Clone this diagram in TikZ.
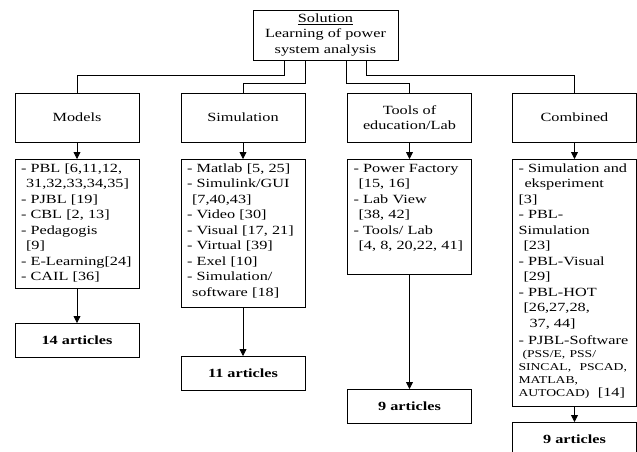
\documentclass[tikz,border=0pt]{standalone}
\usepackage{fontspec}
\setmainfont{Liberation Serif}[FakeStretch=1.3]
\usetikzlibrary{arrows.meta}
\setlength{\parindent}{0pt}

\begin{document}
\begin{tikzpicture}[x=1pt, y=-1pt,
    box/.style={draw, line width=0.8pt, minimum width=124pt, inner sep=0pt, align=center},
    listbox/.style={draw, line width=0.8pt, anchor=north, text width=112pt, inner xsep=6pt,
                    inner ysep=2pt, align=left, text height=11pt, text depth=#1},
    sumbox/.style={box, anchor=north, minimum height=34pt, font=\bfseries\fontsize{12.5}{15.5}\selectfont},
    link/.style={line width=0.8pt},
    arr/.style={line width=0.8pt, -{Triangle[width=7pt,length=7pt]}}]
\tikzset{every node/.style={font=\fontsize{12.5}{15.5}\selectfont}}
\useasboundingbox (0,0) rectangle (637,451);

\node[box, minimum width=145pt, minimum height=50pt] (root) at (325.5,35)
    {\underline{Solution}\\ Learning of power\\ system analysis};

% categories
\node[box, minimum height=49pt] (models) at (77,117.5) {Models};
\node[box, minimum height=49pt] (sim) at (243,117.5) {Simulation};
\node[box, minimum height=49pt] (tools) at (409.5,117.5) {Tools of\\ education/Lab};
\node[box, minimum height=49pt] (comb) at (574.5,117.5) {Combined};

% lists
\node[listbox=114pt] (modelslist) at (77,159) {- PBL [6,11,12,\\
    \hspace*{5pt}31,32,33,34,35]\\
    - PJBL [19]\\
    - CBL [2, 13]\\
    - Pedagogis\\
    \hspace*{5pt}[9]\\
    - E-Learning[24]\\
    - CAIL [36]};
\node[listbox=133pt] (simlist) at (243,159) {- Matlab [5, 25]\\
    - Simulink/GUI\\
    \hspace*{5pt}[7,40,43]\\
    - Video [30]\\
    - Visual [17, 21]\\
    - Virtual [39]\\
    - Exel [10]\\
    - Simulation/\\
    \hspace*{5pt}software [18]};
\node[listbox=100pt] (toolslist) at (409.5,159) {- Power Factory\\
    \hspace*{5pt}[15, 16]\\
    - Lab View\\
    \hspace*{5pt}[38, 42]\\
    - Tools/ Lab\\
    \hspace*{5pt}[4, 8, 20,22, 41]};
\node[listbox=232pt] (comblist) at (574.5,159) {- Simulation and\\
    \hspace*{6pt}eksperiment\\
    {}[3]\\
    - PBL-\\
    Simulation\\
    \hspace*{5pt}[23]\\
    - PBL-Visual\\
    \hspace*{5pt}[29]\\
    - PBL-HOT\\
    \hspace*{5pt}[26,27,28,\\
    \hspace*{11pt}37, 44]\\[1.5pt]
    - PJBL-Software\\
    {\fontsize{10.5}{13}\selectfont\hspace*{4pt}(PSS/E, PSS/\\
    SINCAL,~~PSCAD,\\
    MATLAB,\\
    AUTOCAD)~~{\fontsize{12.5}{13}\selectfont[14]}\par}};

% totals
\node[sumbox] (modelsnum) at (77,323) {14 articles};
\node[sumbox] (simnum) at (243,356) {11 articles};
\node[sumbox] (toolsnum) at (409.5,389) {9 articles};
\node[sumbox] (combnum) at (574.5,422) {9 articles};

\draw[link] ([xshift=-41pt]root.south) -- ++(0,15) -| (models.north);
\draw[link] ([xshift=-20pt]root.south) -- ++(0,23) -| (sim.north);
\draw[link] ([xshift=21pt]root.south) -- ++(0,23) -| (tools.north);
\draw[link] ([xshift=41pt]root.south) -- ++(0,15) -| (comb.north);

\draw[arr] (models.south) -- (modelslist.north);
\draw[arr] (sim.south) -- (simlist.north);
\draw[arr] (tools.south) -- (toolslist.north);
\draw[arr] (comb.south) -- (comblist.north);

\draw[arr] (modelslist.south) -- (modelsnum.north);
\draw[arr] (simlist.south) -- (simnum.north);
\draw[arr] (toolslist.south) -- (toolsnum.north);
\draw[arr] (comblist.south) -- (combnum.north);
\end{tikzpicture}
\end{document}
